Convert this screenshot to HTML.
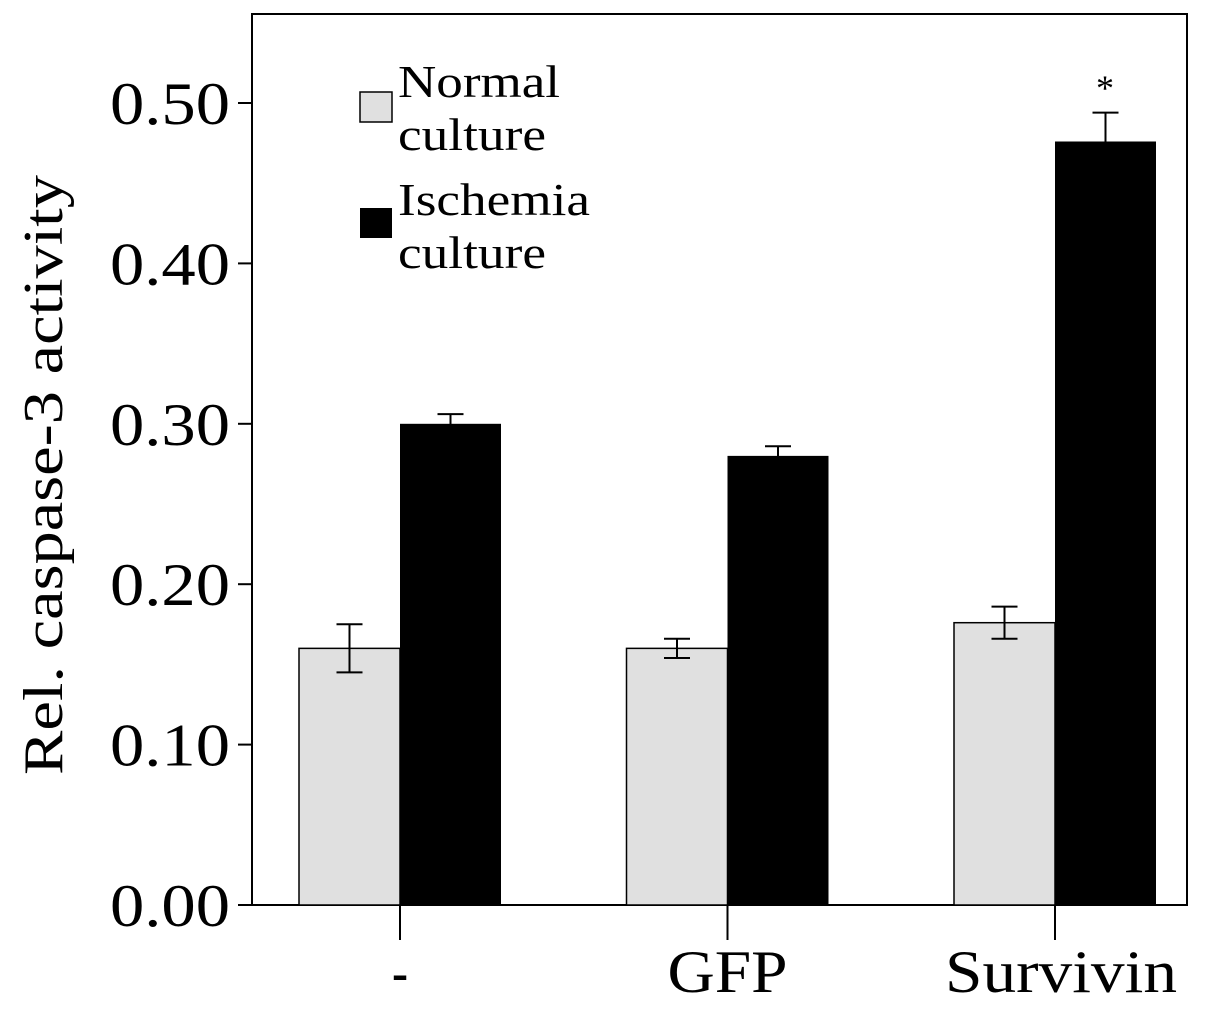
<!DOCTYPE html>
<html><head><meta charset="utf-8">
<style>
html,body{margin:0;padding:0;background:#fff;}
svg{display:block;}
text{font-family:"Liberation Serif",serif;fill:#000;}
</style></head>
<body>
<svg id="chart" width="1205" height="1011" viewBox="0 0 1205 1011" xmlns="http://www.w3.org/2000/svg">
<rect x="252" y="14" width="935" height="891" fill="none" stroke="#000" stroke-width="2"/>
<text x="62" y="475" font-size="56" text-anchor="middle" textLength="600" lengthAdjust="spacingAndGlyphs" transform="rotate(-90 62 475)">Rel. caspase-3 activity</text>
<g id="yaxis"></g>
<g id="bars"></g>
<g id="xaxis"></g>
<g>
<rect x="360" y="92" width="32" height="30" fill="#e0e0e0" stroke="#000" stroke-width="1.5"/>
<text x="398" y="97" font-size="46" textLength="162" lengthAdjust="spacingAndGlyphs">Normal</text>
<text x="398" y="150" font-size="46" textLength="148" lengthAdjust="spacingAndGlyphs">culture</text>
<rect x="360" y="208" width="32" height="30" fill="#000"/>
<text x="398" y="215" font-size="46" textLength="192" lengthAdjust="spacingAndGlyphs">Ischemia</text>
<text x="398" y="268" font-size="46" textLength="148" lengthAdjust="spacingAndGlyphs">culture</text>
</g>
<text x="1105" y="100" font-size="36" text-anchor="middle">*</text>
</svg>
<script>
const categories = ["-", "GFP", "Survivin"];
const normalValues = [0.160, 0.160, 0.176];
const ischemiaValues = [0.300, 0.280, 0.476];
const normalErrors = [0.015, 0.006, 0.010];
const ischemiaErrors = [0.006, 0.006, 0.018];
const yTicks = [0, 0.1, 0.2, 0.3, 0.4, 0.5];
const yTickLabels = ["0.00", "0.10", "0.20", "0.30", "0.40", "0.50"];

const NS = "http://www.w3.org/2000/svg";
const y0 = 905, pxPerUnit = 1604;
function yScale(v){ return y0 - v * pxPerUnit; }
const groupCenters0 = 400, groupStep = 327.5;
function xCenter(i){ return groupCenters0 + i * groupStep; }
const barW = 101;
const xLabelWidths = {"-": 16, "GFP": 120, "Survivin": 232};
function mk(tag, attrs, parent){ const e = document.createElementNS(NS, tag); for (const k in attrs) e.setAttribute(k, attrs[k]); parent.appendChild(e); return e; }

const yaxis = document.getElementById('yaxis');
yTicks.forEach((t, i) => {
  const y = yScale(t);
  const l = mk('line', {x1: 238, x2: 252, y1: y, y2: y, stroke: '#000', 'stroke-width': 2}, yaxis);
  
  
  const tx = mk('text', {x: 110, y: y + 21, 'font-size': 60, textLength: 120, lengthAdjust: 'spacingAndGlyphs'}, yaxis);
  tx.textContent = yTickLabels[i];
  
  
});

const bars = document.getElementById('bars');
function errBar(cx, v, e){
  const g = mk('g', {}, bars);
  
  
  const yt = yScale(v + e), yb = yScale(v - e);
  mk('line', {x1: cx, x2: cx, y1: yt, y2: yb, stroke: '#000', 'stroke-width': 2}, g);
  mk('line', {x1: cx - 13, x2: cx + 13, y1: yt, y2: yt, stroke: '#000', 'stroke-width': 2}, g);
  mk('line', {x1: cx - 13, x2: cx + 13, y1: yb, y2: yb, stroke: '#000', 'stroke-width': 2}, g);
}
categories.forEach((c, i) => {
  const cx = xCenter(i);
  const r1 = mk('rect', {x: cx - barW, y: yScale(normalValues[i]), width: barW, height: y0 - yScale(normalValues[i]), fill: '#e0e0e0', stroke: '#000', 'stroke-width': 1.5}, bars);
  
  
  const r2 = mk('rect', {x: cx, y: yScale(ischemiaValues[i]), width: barW, height: y0 - yScale(ischemiaValues[i]), fill: '#000'}, bars);
  
  
  errBar(cx - barW / 2, normalValues[i], normalErrors[i]);
  errBar(cx + barW / 2, ischemiaValues[i], ischemiaErrors[i]);
});

const xaxis = document.getElementById('xaxis');
categories.forEach((c, i) => {
  const cx = xCenter(i);
  const l = mk('line', {x1: cx, x2: cx, y1: 905, y2: 940, stroke: '#000', 'stroke-width': 2}, xaxis);
  
  
  const w = xLabelWidths[c] || 100;
  const t = mk('text', {x: cx + (i === 2 ? 6 : 0), y: 992, 'font-size': 60, 'text-anchor': 'middle', textLength: w, lengthAdjust: 'spacingAndGlyphs'}, xaxis);
  t.textContent = c;
  
  
});
</script>
</body></html>
